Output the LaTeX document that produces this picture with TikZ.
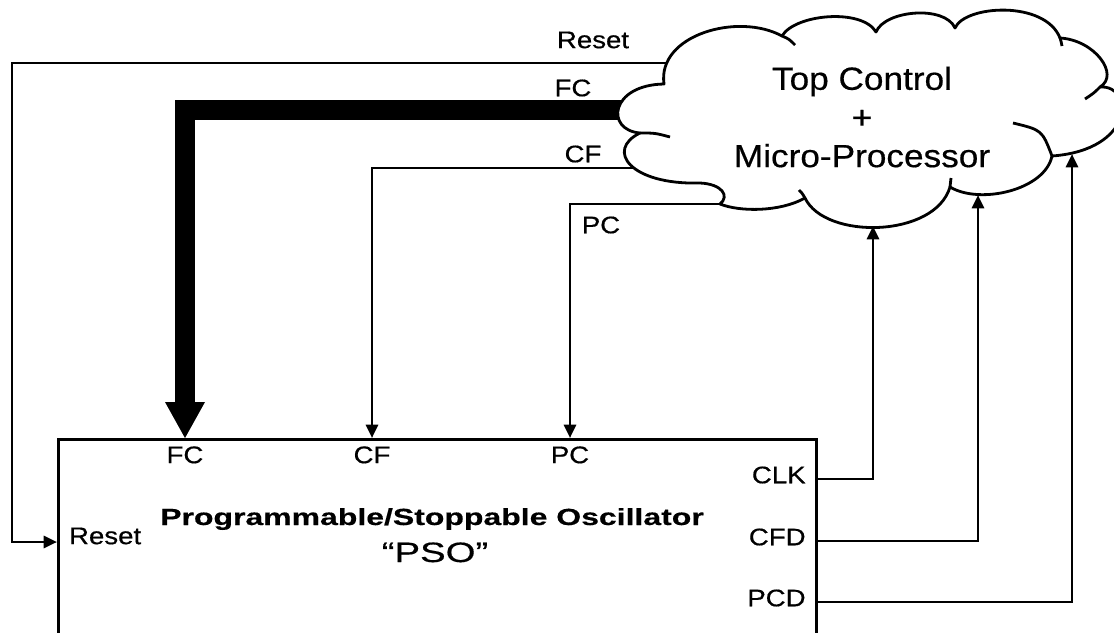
\documentclass[tikz,border=0pt]{standalone}
\usepackage{fontspec}
\setmainfont{Liberation Sans}[FakeStretch=1.15,FakeBold=0.5]
\newfontfamily\cloudfont{Liberation Sans}[FakeStretch=1.1,FakeBold=0.5]
\newfontfamily\titlefont{Liberation Sans}[FakeStretch=1.37,FakeBold=0.5]
\usetikzlibrary{arrows.meta}

\begin{document}
\begin{tikzpicture}[x=0.75pt, y=-0.75pt, line width=2.1pt,
  lbl/.style={inner sep=0pt, font=\fontsize{18}{21}\selectfont},
  sig/.style={-{Triangle[length=10pt,width=9pt]}},
  bus/.style={line width=15pt, -{Triangle[length=27pt,width=30pt,line width=0pt]}}]
  \useasboundingbox (0,0) rectangle (1114,632);
  \clip (0,0) rectangle (1114,632);
  \node[draw, anchor=north west, minimum width=568.5pt, minimum height=200pt, inner sep=0pt] (pso) at (57,438) {};
  \node[anchor=base, font=\titlefont\bfseries\fontsize{17.5}{21}\selectfont] (title) at (432,525) {Programmable/Stoppable Oscillator};
  \node[anchor=base, font=\titlefont\fontsize{21}{25}\selectfont] (abbr) at (435,562) {“PSO”};
  \foreach \n/\t/\x in {fcin/FC/185, cfin/CF/372, pcin/PC/570}
    \node[lbl, anchor=north, inner ysep=5.25pt] (\n) at (\x,438) {\t};
  \foreach \n/\t/\y in {clk/CLK/475, cfd/CFD/537, pcd/PCD/598}
    \node[lbl, anchor=east, inner xsep=6pt] (\n) at (815,\y) {\t};
  \node[lbl, anchor=west, inner xsep=8pt] (rstin) at (57,536) {Reset};
  \node[lbl] (rstlbl) at (593,40) {Reset};
  \node[lbl] (fclbl) at (573,88) {FC};
  \node[lbl] (cflbl) at (583,154) {CF};
  \node[lbl] (pclbl) at (601,225) {PC};
  \coordinate (rstout) at (680,63);
  \coordinate (rstbend) at (12,63);
  \coordinate (fcout) at (640,110);
  \coordinate (cfout) at (655,168);
  \coordinate (pcout) at (720,204);
  \coordinate (clk-up) at (873,226);
  \coordinate (cfd-up) at (978,195);
  \coordinate (pcd-up) at (1072,154);
  \draw[sig] (rstout) -- (rstbend) |- ([yshift=-4.5pt]rstin.west);
  \draw[bus] (fcout) -| (fcin.north);
  \draw[sig] (cfout) -| (cfin.north);
  \draw[sig] (pcout) -| (pcin.north);
  \foreach \n in {clk,cfd,pcd}
    \draw[sig] ([yshift=-3pt]\n.east) -| (\n-up);
  \draw[fill=white, line join=round] (664,84)
    .. controls (657,35) and (738,12) .. (782,36)
    .. controls (795,14) and (862,8) .. (876,32)
    .. controls (885,10) and (945,5) .. (955,28)
    .. controls (965,5) and (1045,0) .. (1060,38)
    .. controls (1095,40) and (1120,75) .. (1100,87)
    .. controls (1135,85) and (1135,150) .. (1052,156)
    .. controls (1045,190) and (980,205) .. (950,187)
    .. controls (935,238) and (825,240) .. (805,198)
    .. controls (780,212) and (740,212) .. (720,204)
    .. controls (730,196) and (722,184) .. (700,183)
    .. controls (630,185) and (605,150) .. (640,133)
    .. controls (605,130) and (610,85) .. cycle;
  \draw (782,36) .. controls (789,39) .. (795,45);
  \draw (1060,38) .. controls (1061,41) .. (1062,46);
  \draw (1100,87) .. controls (1094,93) .. (1085,99);
  \draw (1013,123) .. controls (1042,130) .. (1052,156);
  \draw (950,187) .. controls (951,183) .. (951,178);
  \draw (805,198) .. controls (802,193) .. (799,190);
  \draw (640,133) .. controls (655,133) .. (670,137);
  \node[font=\cloudfont\fontsize{24}{29}\selectfont, align=center] (ctrl) at (862,117) {Top Control\\+\\Micro-Processor};
\end{tikzpicture}
\end{document}
